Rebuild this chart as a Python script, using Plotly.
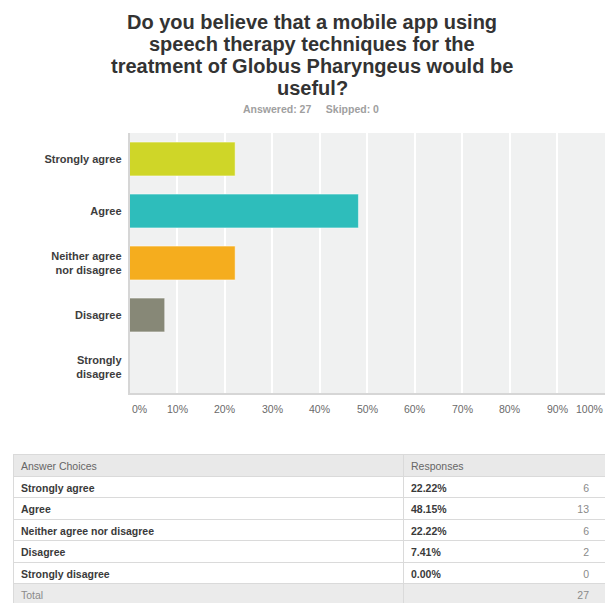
import plotly.graph_objects as go

TITLE_LINES = [
    "Do you believe that a mobile app using",
    "speech therapy techniques for the",
    "treatment of Globus Pharyngeus would be",
    "useful?",
]
SUBTITLE = "Answered: 27&nbsp;&nbsp;&nbsp;&nbsp;&nbsp;Skipped: 0"

CATEGORIES = ["Strongly agree", "Agree", "Neither agree nor disagree", "Disagree", "Strongly disagree"]
CAT_LABELS = ["Strongly agree", "Agree", "Neither agree<br>nor disagree", "Disagree", "Strongly<br>disagree"]
PERCENTS = [22.22, 48.15, 22.22, 7.41, 0.00]
COUNTS = [6, 13, 6, 2, 0]
TOTAL = 27
BAR_COLORS = ["#cfd628", "#2ebdbb", "#f5ad1e", "#878877", "#aaaaaa"]

X_TICKS = [0, 10, 20, 30, 40, 50, 60, 70, 80, 90, 100]
X_TICK_TEXT = [f"{t}%" for t in X_TICKS]

FONT = "Liberation Sans, Arial, Helvetica, sans-serif"
W, H = 605, 603

fig = go.Figure()

fig.add_trace(go.Bar(
    x=PERCENTS, y=CAT_LABELS, orientation="h",
    marker=dict(color=BAR_COLORS, line=dict(color="rgba(255,255,255,0.5)", width=1)),
    hoverinfo="skip", showlegend=False,
    xaxis="x", yaxis="y",
))

n = len(CATEGORIES)
row_fill = ["white"] * n + ["#ebebeb"]
TABLE_TOP = (H - 454) / H

# Main table: bold choices + percentages, borders and fills
fig.add_trace(go.Table(
    domain=dict(x=[13 / W, 1.0], y=[0, TABLE_TOP]),
    columnwidth=[390, 202],
    header=dict(values=["Answer Choices", "Responses"],
                fill=dict(color="#e9e9e9"),
                line=dict(color="#dadada", width=1),
                align="left", height=22,
                font=dict(family=FONT, size=10.5, color="#666666")),
    cells=dict(values=[list(CATEGORIES) + [""], [f"{p:.2f}%" for p in PERCENTS] + [""]],
               fill=dict(color=[row_fill, row_fill]),
               line=dict(color="#dadada", width=1),
               align="left", height=21.5,
               font=dict(family=FONT, size=10.5, color="#3a3a3a", weight="bold")),
))

# Overlay table: "Total" label and right-aligned counts (regular weight)
fig.add_trace(go.Table(
    domain=dict(x=[13 / W, 597 / W], y=[0, TABLE_TOP]),
    columnwidth=[390, 194],
    header=dict(values=["", ""], fill=dict(color="rgba(0,0,0,0)"),
                line=dict(width=0, color="rgba(0,0,0,0)"), height=22,
                font=dict(family=FONT, size=10.5, color="#666666")),
    cells=dict(values=[[""] * n + ["Total"], [str(c) for c in COUNTS] + [str(TOTAL)]],
               fill=dict(color="rgba(0,0,0,0)"),
               line=dict(width=0, color="rgba(0,0,0,0)"),
               align=["left", "right"], height=21.5,
               font=dict(family=FONT, size=10.5, color="#8a8a8a")),
))

annotations = []
for i, line in enumerate(TITLE_LINES):
    annotations.append(dict(
        text=f"<b>{line}</b>", x=312 / W, xref="paper", yref="paper",
        y=1 - (22.5 + i * 21.7) / H, xanchor="center", yanchor="middle",
        showarrow=False, font=dict(family=FONT, size=20, color="#333333")))
annotations.append(dict(
    text=f"<b>{SUBTITLE}</b>", x=(242 + 380) / 2 / W, xref="paper", yref="paper",
    y=1 - 109 / H, xanchor="center", yanchor="middle", showarrow=False,
    font=dict(family=FONT, size=10.5, color="#a0a0a0")))

for i, (t, txt) in enumerate(zip(X_TICKS, X_TICK_TEXT)):
    anchor = "left" if i == 0 else ("right" if i == len(X_TICKS) - 1 else "center")
    annotations.append(dict(
        text=txt, x=t, xref="x", y=1 - 409 / H, yref="paper",
        xanchor=anchor, yanchor="middle", showarrow=False,
        font=dict(family=FONT, size=10.5, color="#6a6a6a")))

fig.update_layout(
    width=W, height=H,
    margin=dict(l=0, r=0, t=0, b=0),
    paper_bgcolor="white",
    plot_bgcolor="#f0f1f1",
    bargap=0.35,
    font=dict(family=FONT),
    xaxis=dict(domain=[129.5 / W, 1.0], range=[0, 100], tickvals=X_TICKS,
               showticklabels=False, showgrid=True, gridcolor="white", gridwidth=1.5,
               zeroline=False, showline=True, linecolor="#d6d6d6", linewidth=1.5,
               fixedrange=True),
    yaxis=dict(domain=[(H - 393) / H, (H - 133) / H], autorange="reversed",
               categoryorder="array", categoryarray=CAT_LABELS,
               showgrid=False, zeroline=False, showline=True, linecolor="#d6d6d6",
               linewidth=1.5, ticks="", ticklabelstandoff=4,
               tickfont=dict(family=FONT, size=11, color="#3d3d3d", weight="bold"),
               fixedrange=True),
    annotations=annotations,
)

fig.write_html(
    "out.html",
    config={"displayModeBar": False},
    post_script="document.body.style.margin='0';document.body.style.overflow='hidden';",
)
